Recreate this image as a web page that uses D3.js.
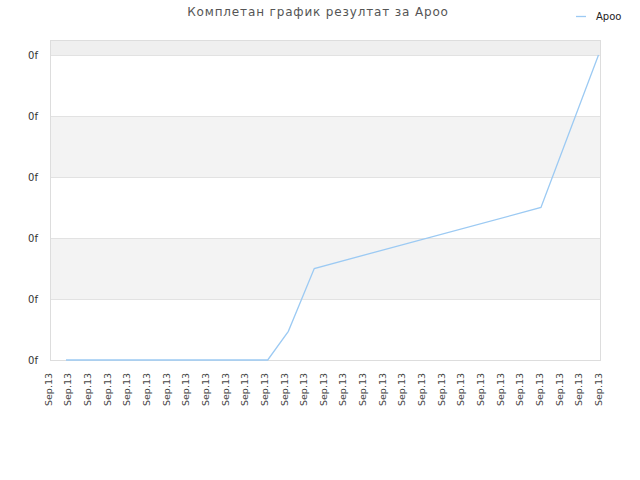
<!DOCTYPE html>
<html>
<head>
<meta charset="utf-8">
<script src="https://cdn.jsdelivr.net/npm/d3@7"></script>
<style>
  body { margin: 0; background: #fff; }
  text { font-family: "DejaVu Sans", sans-serif; }
</style>
</head>
<body>
<div id="chart"></div>
<script>
const title = "Комплетан график резултат за Apoo";
const seriesName = "Apoo";

// x tick labels (one per slot)
const xLabels = ["Sep.13", "Sep.13", "Sep.13", "Sep.13", "Sep.13", "Sep.13", "Sep.13", "Sep.13",
    "Sep.13", "Sep.13", "Sep.13", "Sep.13", "Sep.13", "Sep.13", "Sep.13", "Sep.13", "Sep.13",
    "Sep.13", "Sep.13", "Sep.13", "Sep.13", "Sep.13", "Sep.13", "Sep.13", "Sep.13", "Sep.13",
    "Sep.13", "Sep.13", "Sep.13"];

// y ticks and their (broken) labels
const yTicks = [0, 1, 2, 3, 4, 5];
const yLabels = ["0f", "0f", "0f", "0f", "0f", "0f"];

// data points: position along the time axis (in tick slots) and value
const pointTimes = [0.89, 11.16, 12.21, 13.53, 25.07, 28];
const pointValues = [0, 0, 0.47, 1.5, 2.5, 5];

const width = 640, height = 480;
const plot = { left: 50, right: 600, top: 40, bottom: 360 };

const svg = d3.select("#chart").append("svg")
    .attr("width", width)
    .attr("height", height);

const x = d3.scaleLinear()
    .domain([0, xLabels.length - 1])
    .range([48.5, 598.5]);

const y = d3.scaleLinear()
    .domain([0, 5])
    .range([plot.bottom, 55]);

// background bands
svg.append("rect")
    .attr("x", plot.left).attr("y", plot.top)
    .attr("width", plot.right - plot.left)
    .attr("height", y(5) - plot.top)
    .attr("fill", "#efefef");

svg.append("g")
    .selectAll("rect")
    .data(yTicks.slice(0, -1))
    .join("rect")
    .attr("x", plot.left)
    .attr("y", d => y(d + 1))
    .attr("width", plot.right - plot.left)
    .attr("height", d => y(d) - y(d + 1))
    .attr("fill", (d, i) => i % 2 === 1 ? "#f3f3f3" : "#ffffff");

// grid lines
svg.append("g")
    .selectAll("line")
    .data(yTicks)
    .join("line")
    .attr("x1", plot.left).attr("x2", plot.right)
    .attr("y1", d => y(d) + 0.5).attr("y2", d => y(d) + 0.5)
    .attr("stroke", "#e2e2e2");

// plot frame
svg.append("rect")
    .attr("x", plot.left + 0.5).attr("y", plot.top + 0.5)
    .attr("width", plot.right - plot.left)
    .attr("height", plot.bottom - plot.top)
    .attr("fill", "none")
    .attr("stroke", "#dddddd");

// y labels
svg.append("g")
    .selectAll("text")
    .data(yTicks)
    .join("text")
    .attr("x", 38)
    .attr("y", d => y(d))
    .attr("dy", "0.35em")
    .attr("text-anchor", "end")
    .attr("fill", "#333")
    .style("font-size", "10px")
    .text((d, i) => yLabels[i]);

// x labels, rotated
svg.append("g")
    .selectAll("text")
    .data(xLabels)
    .join("text")
    .attr("transform", (d, i) => `translate(${x(i)},373) rotate(-90)`)
    .attr("dy", "0.35em")
    .attr("text-anchor", "end")
    .attr("fill", "#444")
    .style("font-size", "9.5px")
    .text(d => d);

// series line
const line = d3.line()
    .x((d, i) => x(pointTimes[i]))
    .y(d => y(d));

svg.append("path")
    .datum(pointValues)
    .attr("d", line)
    .attr("fill", "none")
    .attr("stroke", "#9ccaf3")
    .attr("stroke-width", 1.3);

// title
svg.append("text")
    .attr("x", 318)
    .attr("y", 16)
    .attr("text-anchor", "middle")
    .attr("fill", "#555")
    .style("font-size", "12px")
    .style("letter-spacing", "0.85px")
    .text(title);

// legend
svg.append("line")
    .attr("x1", 576).attr("x2", 586)
    .attr("y1", 16.5).attr("y2", 16.5)
    .attr("stroke", "#9ccaf3")
    .attr("stroke-width", 1.3);

svg.append("text")
    .attr("x", 596)
    .attr("y", 16)
    .attr("dy", "0.35em")
    .attr("fill", "#222")
    .style("font-size", "10px")
    .text(seriesName);
</script>
</body>
</html>
